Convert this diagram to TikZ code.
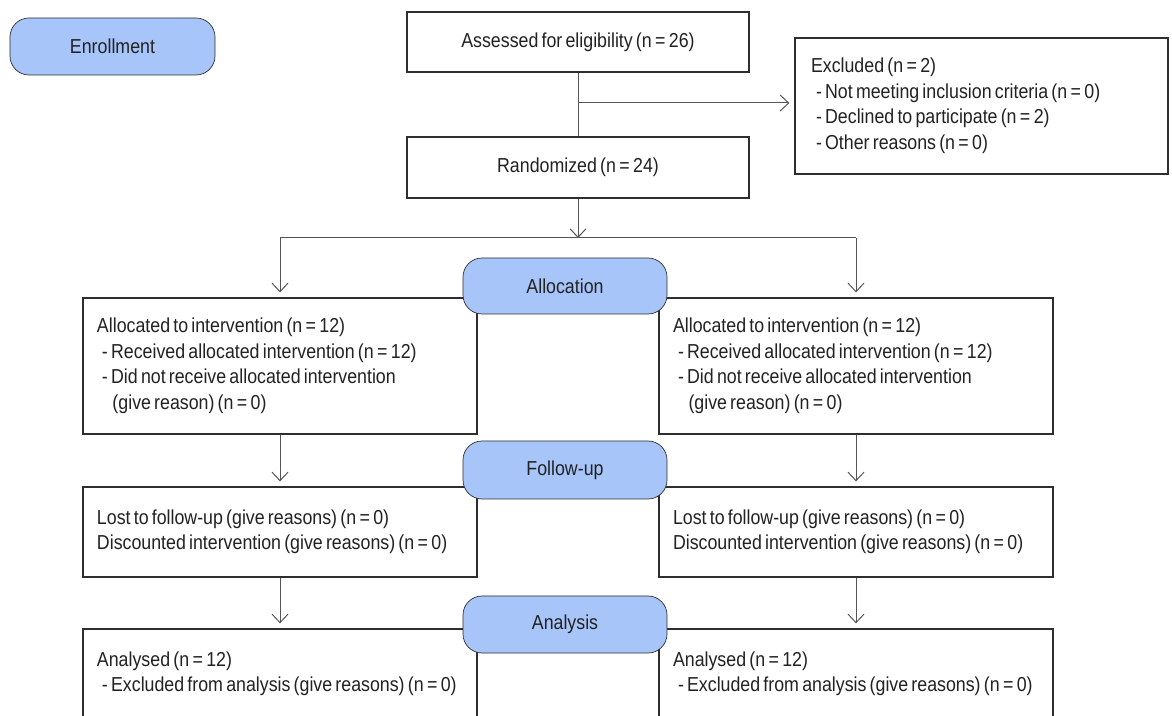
\documentclass[tikz,border=0pt]{standalone}
\usepackage{fontspec}
\setmainfont{Liberation Sans}[FakeStretch=0.88, WordSpace=0.65]
\usetikzlibrary{arrows.meta}
\definecolor{pillblue}{HTML}{A8C5FA}
\definecolor{boxline}{HTML}{2E2E2E}
\definecolor{linkgray}{HTML}{555555}
\definecolor{txt}{HTML}{222222}

\begin{document}
\begin{tikzpicture}[x=0.2mm,y=-0.2mm,
  font=\fontsize{11.5}{14.5}\selectfont, text=txt,
  stage/.style={draw=boxline, fill=pillblue, rounded corners=3.8mm, minimum width=40.8mm, minimum height=11.4mm},
  box/.style={draw=boxline, fill=white, line width=0.25mm, minimum width=68.4mm, minimum height=12mm},
  armbox/.style={box, text width=73.2mm, inner xsep=2.8mm, align=flush left},
  link/.style={draw=linkgray, line width=0.2mm},
  arr/.style={link, -{Straight Barb[length=1.7mm,width=3.2mm]}, shorten >=1mm}]
\clip (0,0) rectangle (1172,716); % page, bottom boxes run off it
\def\dash{\hspace*{1mm}- }

% enrollment
\node[box] (assess) at (578,42) {Assessed for eligibility (n\,=\,26)};
\node[box, minimum height=12.2mm] (rand) at (578,167.5) {Randomized (n\,=\,24)};
\node[box, text width=68.2mm, inner xsep=3.2mm, align=flush left, minimum height=27.2mm] (excl) at (981.5,106)
  {Excluded (n\,=\,2)\\ \dash Not meeting inclusion criteria (n\,=\,0)\\ \dash Declined to participate (n\,=\,2)\\ \dash Other reasons (n\,=\,0)};

% the two arms
\node[armbox, minimum height=27.2mm] (L1) at (280,366)
  {Allocated to intervention (n\,=\,12)\\ \dash Received allocated intervention (n\,=\,12)\\ \dash Did not receive allocated intervention\\ \hspace*{3.1mm}(give reason) (n\,=\,0)};
\node[armbox, minimum height=27.2mm] (R1) at (856,366)
  {Allocated to intervention (n\,=\,12)\\ \dash Received allocated intervention (n\,=\,12)\\ \dash Did not receive allocated intervention\\ \hspace*{3.1mm}(give reason) (n\,=\,0)};
\node[armbox, minimum height=18mm] (L2) at (280,532)
  {Lost to follow-up (give reasons) (n\,=\,0)\\ Discounted intervention (give reasons) (n\,=\,0)};
\node[armbox, minimum height=18mm] (R2) at (856,532)
  {Lost to follow-up (give reasons) (n\,=\,0)\\ Discounted intervention (give reasons) (n\,=\,0)};
\node[armbox, minimum height=18mm] (L3) at (280,674)
  {Analysed (n\,=\,12)\\ \dash Excluded from analysis (give reasons) (n\,=\,0)};
\node[armbox, minimum height=18mm] (R3) at (856,674)
  {Analysed (n\,=\,12)\\ \dash Excluded from analysis (give reasons) (n\,=\,0)};

% connectors
\coordinate (split) at (578,103);
\coordinate (fork) at (578,238);
\draw[link] (assess) -- (rand);
\draw[arr] (split) -- (split -| excl.west);
\draw[arr, shorten >=0pt] (rand) -- (fork);
\draw[link] (fork -| L1.north) -- (fork -| R1.north);
\draw[arr] (fork -| L1.north) -- (L1.north);
\draw[arr] (fork -| R1.north) -- (R1.north);
\draw[arr] (L1) -- (L2);
\draw[arr] (R1) -- (R2);
\draw[arr] (L2) -- (L3);
\draw[arr] (R2) -- (R3);

% stage labels, on top of the boxes
\node[stage] (enroll) at (112.5,46.5) [minimum width=41mm] {Enrollment};
\node[stage, minimum height=11.2mm] (alloc) at (565,286) {Allocation};
\node[stage, minimum height=11.6mm] (follow) at (565,470) {Follow-up};
\node[stage] (analysis) at (565,624.5) {Analysis};
\end{tikzpicture}
\end{document}
